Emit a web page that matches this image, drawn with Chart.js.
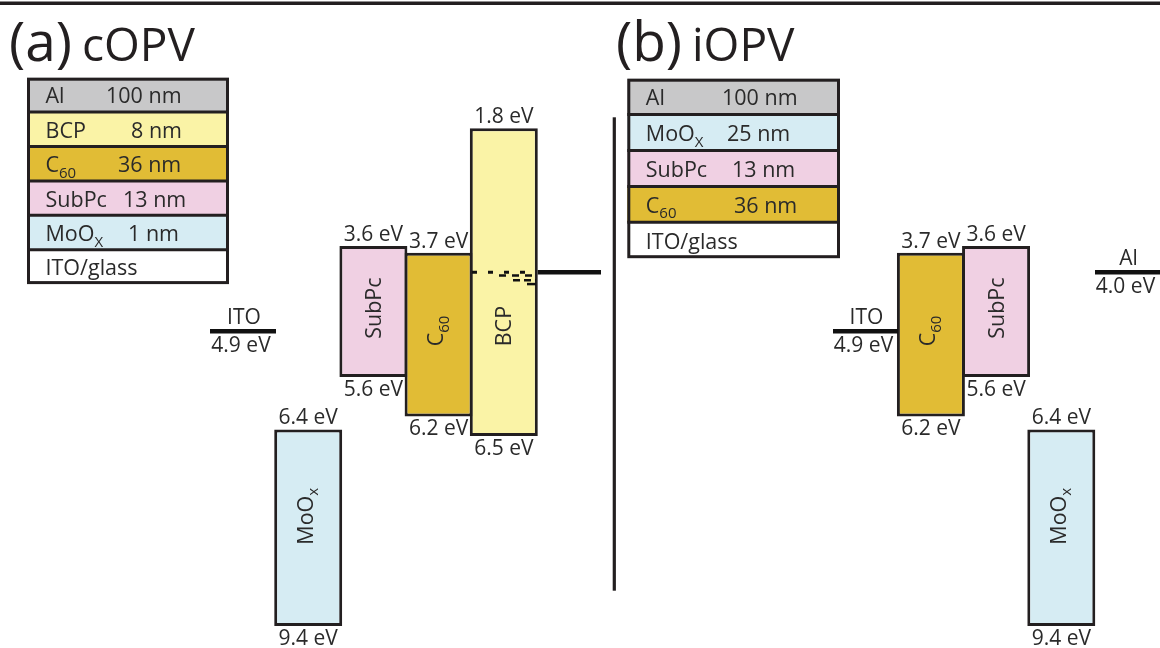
<!DOCTYPE html>
<html>
<head>
<meta charset="utf-8">
<script src="https://cdn.jsdelivr.net/npm/chart.js@4.4.1/dist/chart.umd.min.js"></script>
<style>
  html, body { margin: 0; padding: 0; background: #ffffff; }
  #wrap { position: relative; width: 1160px; height: 648px; }
  canvas { display: block; }
</style>
</head>
<body>
<div id="wrap"><canvas id="diagram" width="1160" height="648"></canvas></div>
<script>
// ---------- Energy levels (eV below vacuum) ----------
// (a) conventional cell, columns left to right
const cLayers = ['MoOx', 'SubPc', 'C60', 'BCP'];
const cLumo = [6.4, 3.6, 3.7, 1.8];
const cHomo = [9.4, 5.6, 6.2, 6.5];
const cContacts = ['ITO', 'Al'];
const cWorkFn = [4.9, 4.0];
// (b) inverted cell, columns left to right
const iLayers = ['C60', 'SubPc', 'MoOx'];
const iLumo = [3.7, 3.6, 6.4];
const iHomo = [6.2, 5.6, 9.4];
const iContacts = ['ITO', 'Al'];
const iWorkFn = [4.9, 4.0];
// defect states inside BCP, just under the Al level
const bcpGapStates = [4.0, 4.05, 4.12, 4.18];

// ---------- Device stacks, top to bottom ----------
const cStack = ['Al', 'BCP', 'C60', 'SubPc', 'MoOx', 'ITO/glass'];
const cThickness = [100, 8, 36, 13, 1, null];
const iStack = ['Al', 'MoOx', 'SubPc', 'C60', 'ITO/glass'];
const iThickness = [100, 25, 13, 36, null];

// ---------- Styling and layout ----------
const FILL = {
  'Al': '#c8c8c9', 'BCP': '#faf3a6', 'C60': '#e1bc35',
  'SubPc': '#f0d0e3', 'MoOx': '#d6ecf3', 'ITO/glass': '#ffffff'
};
const INK = '#231f20';
const TEXT = '#2a2a2a';
const FONT = '"Open Sans", "Noto Sans", sans-serif';

const BOX_W = 68;                          // bar width in px
const cColumnX = [308.2, 373.4, 438.6, 503.8];
const iColumnX = [930.9, 996.1, 1061.3];
const cLabelShift = [-11.5, -3.5, -3.5, 44]; // px offset of the rotated name
const iLabelShift = [-3.5, -3.5, -11.5];
const cContactX = [[210, 276], [537.7, 601]];
const iContactX = [[833, 898], [1095, 1160]];
const cContactNamed = [true, false];
const iContactNamed = [true, true];
const gapX = [[472, 536], [499, 536], [513, 536], [527, 536]];
const gapDash = [[5, 11], [7, 6], [7, 4], []];

// rich-text pieces for material names (second entry marks a subscript)
const NAME_BOX = {
  'MoOx': [['MoO'], ['x', 1]], 'SubPc': [['SubPc']],
  'C60': [['C'], ['60', 1]], 'BCP': [['BCP']]
};
const NAME_TABLE = {
  'MoOx': [['MoO'], ['X', 1]], 'SubPc': [['SubPc']], 'C60': [['C'], ['60', 1]],
  'BCP': [['BCP']], 'Al': [['Al']], 'ITO/glass': [['ITO/glass']]
};

// ---------- Datasets ----------
const boxes = [];
cLayers.forEach((m, i) => boxes.push({ m, x: cColumnX[i], top: cLumo[i], bot: cHomo[i], shift: cLabelShift[i] }));
iLayers.forEach((m, i) => boxes.push({ m, x: iColumnX[i], top: iLumo[i], bot: iHomo[i], shift: iLabelShift[i] }));

const datasets = [{
  type: 'bar',
  data: boxes.map(b => ({ x: b.x, y: [b.top, b.bot] })),
  backgroundColor: boxes.map(b => FILL[b.m]),
  borderColor: INK,
  borderWidth: 3,
  borderSkipped: false,
  barThickness: BOX_W,
  inflateAmount: 0,
  order: 2
}];

function contactLine(xs, wf) {
  return {
    type: 'line',
    data: [{ x: xs[0], y: wf }, { x: xs[1], y: wf }],
    borderColor: '#111111', borderWidth: 4.5, pointRadius: 0,
    borderCapStyle: 'butt', clip: false, order: 0
  };
}
cContacts.forEach((c, i) => datasets.push(contactLine(cContactX[i], cWorkFn[i])));
iContacts.forEach((c, i) => datasets.push(contactLine(iContactX[i], iWorkFn[i])));

bcpGapStates.forEach((e, i) => datasets.push({
  type: 'line',
  data: [{ x: gapX[i][0], y: e }, { x: gapX[i][1], y: e }],
  borderColor: '#111111', borderWidth: i === 0 ? 3 : 2.5,
  borderDash: gapDash[i], pointRadius: 0, order: 1
}));

// ---------- Text helpers ----------
const SUB = 0.68;
function runWidth(ctx, parts, size) {
  let w = 0;
  parts.forEach(p => {
    ctx.font = `${p[1] ? Math.round(size * SUB) : size}px ${FONT}`;
    w += ctx.measureText(p[0]).width;
  });
  return w;
}
function drawRun(ctx, parts, x, y, size) {
  let cx = x;
  parts.forEach(p => {
    const s = p[1] ? Math.round(size * SUB) : size;
    ctx.font = `${s}px ${FONT}`;
    ctx.fillText(p[0], cx, p[1] ? y + size * 0.26 : y);
    cx += ctx.measureText(p[0]).width;
  });
}
const eV = v => v.toFixed(1) + ' eV';

// ---------- Overlay: labels, stack legends, titles, rules ----------
const overlay = {
  id: 'overlay',
  afterDatasetsDraw(chart) {
    const { ctx, scales: { x, y } } = chart;
    ctx.save();
    ctx.textAlign = 'left';
    ctx.textBaseline = 'alphabetic';
    ctx.fillStyle = TEXT;

    // band edge values and rotated names
    boxes.forEach(b => {
      const px = x.getPixelForValue(b.x);
      const yt = y.getPixelForValue(b.top);
      const yb = y.getPixelForValue(b.bot);
      ctx.font = `21px ${FONT}`;
      ctx.textAlign = 'center';
      ctx.fillText(eV(b.top), px, yt - 5);
      ctx.fillText(eV(b.bot), px, yb + 19);
      ctx.textAlign = 'left';

      const parts = NAME_BOX[b.m];
      const hasSub = parts.some(p => p[1]);
      const w = runWidth(ctx, parts, 21.5);
      ctx.save();
      ctx.translate(px - (hasSub ? 3 : 0), (yt + yb) / 2 + b.shift);
      ctx.rotate(-Math.PI / 2);
      drawRun(ctx, parts, -w / 2, 7.5, 21.5);
      ctx.restore();
    });

    // electrode labels
    const contactText = (names, wfs, xs, named) => {
      names.forEach((n, i) => {
        if (!named[i]) return;
        const cx = x.getPixelForValue((xs[i][0] + xs[i][1]) / 2);
        const cy = y.getPixelForValue(wfs[i]);
        ctx.font = `21px ${FONT}`;
        ctx.textAlign = 'center';
        ctx.fillText(n, cx + 1, cy - 7);
        ctx.fillText(eV(wfs[i]), cx - 2, cy + 21);
      });
      ctx.textAlign = 'left';
    };
    contactText(cContacts, cWorkFn, cContactX, cContactNamed);
    contactText(iContacts, iWorkFn, iContactX, iContactNamed);

    // device stack legends
    const stackTable = (names, thick, left, top, width, rowH, valueX) => {
      names.forEach((n, i) => {
        const rt = top + i * rowH;
        ctx.fillStyle = FILL[n];
        ctx.fillRect(left, rt, width, rowH);
      });
      ctx.strokeStyle = INK;
      ctx.lineWidth = 3;
      ctx.strokeRect(left + 1.5, top + 1.5, width - 3, rowH * names.length - 3);
      for (let i = 1; i < names.length; i++) {
        ctx.beginPath();
        ctx.moveTo(left, top + i * rowH);
        ctx.lineTo(left + width, top + i * rowH);
        ctx.stroke();
      }
      ctx.fillStyle = TEXT;
      names.forEach((n, i) => {
        const base = top + i * rowH + rowH / 2 + 8.5;
        drawRun(ctx, NAME_TABLE[n], left + 18.5, base, 21.5);
        if (thick[i] !== null) {
          ctx.font = `21.5px ${FONT}`;
          ctx.fillText(thick[i] + ' nm', valueX[i], base);
        }
      });
    };
    stackTable(cStack, cThickness, 27, 77.7, 202, 34.4, [106, 131, 118, 123, 128]);
    stackTable(iStack, iThickness, 627.3, 78.7, 212.7, 35.9, [722, 727, 732, 734]);

    // panel titles
    ctx.fillStyle = INK;
    ctx.font = `55px ${FONT}`;
    ctx.fillText('(a)', 9, 61);
    ctx.fillText('(b)', 616, 61);
    ctx.font = `46px ${FONT}`;
    ctx.fillText('cOPV', 82, 61);
    ctx.fillText('iOPV', 692, 61);

    // top rule and panel divider
    ctx.fillRect(0, 1.5, 1160, 3.5);
    ctx.fillRect(612.7, 117.3, 3.2, 473.4);
    ctx.restore();
  }
};

new Chart(document.getElementById('diagram'), {
  type: 'bar',
  data: { datasets },
  options: {
    responsive: false,
    devicePixelRatio: 1,
    animation: false,
    events: [],
    layout: { padding: 0 },
    scales: {
      x: { type: 'linear', min: 0, max: 1160, offset: false, bounds: 'data', display: false },
      y: { type: 'linear', min: -0.157, max: 9.736, reverse: true, bounds: 'data', display: false }
    },
    plugins: { legend: { display: false }, tooltip: { enabled: false } }
  },
  plugins: [overlay]
});
</script>
</body>
</html>
